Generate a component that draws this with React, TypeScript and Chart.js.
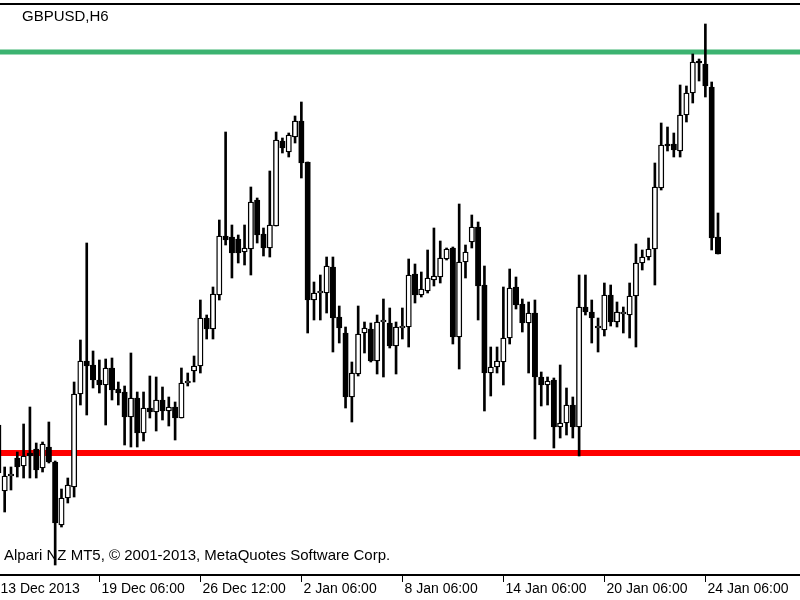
import React, { useEffect, useRef } from "react";
import { Chart, registerables } from "chart.js";

Chart.register(...registerables);

// GBPUSD H6 bars, first bar index = -1 (bar index 0 = first fully visible bar)
const FIRST_BAR = -1;

const OPEN = [
  1.6305,
  1.6239, 1.6254, 1.6272, 1.6264, 1.6277, 1.6281, 1.6262, 1.6283, 1.6268, 1.6205,
  1.6232, 1.6243, 1.6336, 1.6369, 1.6365, 1.6350, 1.6345, 1.6362, 1.6341, 1.6338,
  1.6313, 1.6332, 1.6297, 1.6322, 1.6318, 1.6330, 1.6319, 1.6323, 1.6312, 1.6347,
  1.6359, 1.6364, 1.6412, 1.6401, 1.6435, 1.6494, 1.6493, 1.6491, 1.6478, 1.6481,
  1.6530, 1.6496, 1.6482, 1.6504, 1.6589, 1.6578, 1.6593, 1.6609, 1.6568, 1.6430,
  1.6437, 1.6437, 1.6463, 1.6413, 1.6397, 1.6333, 1.6356, 1.6397, 1.6401, 1.6369,
  1.6408, 1.6407, 1.6384, 1.6402, 1.6403, 1.6456, 1.6435, 1.6439, 1.6450, 1.6453,
  1.6471, 1.6482, 1.6393, 1.6468, 1.6488, 1.6503, 1.6445, 1.6357, 1.6363, 1.6368,
  1.6392, 1.6443, 1.6426, 1.6407, 1.6417, 1.6353, 1.6345, 1.6350, 1.6303, 1.6307,
  1.6325, 1.6303, 1.6423, 1.6418, 1.6402, 1.6400, 1.6435, 1.6408, 1.6416, 1.6415,
  1.6434, 1.6467, 1.6473, 1.6481, 1.6542, 1.6586, 1.6586, 1.6579, 1.6615, 1.6637,
  1.6669, 1.6666, 1.6643, 1.6493,
];

const HIGH = [
  1.6310,
  1.6263, 1.6263, 1.6278, 1.6306, 1.6323, 1.6287, 1.6288, 1.6308, 1.6269, 1.6241,
  1.6252, 1.6348, 1.6390, 1.6487, 1.6379, 1.6370, 1.6371, 1.6372, 1.6348, 1.6344,
  1.6377, 1.6338, 1.6338, 1.6354, 1.6353, 1.6343, 1.6333, 1.6328, 1.6362, 1.6357,
  1.6374, 1.6430, 1.6415, 1.6443, 1.6510, 1.6598, 1.6505, 1.6495, 1.6505, 1.6543,
  1.6532, 1.6502, 1.6559, 1.6598, 1.6592, 1.6597, 1.6614, 1.6628, 1.6568, 1.6448,
  1.6455, 1.6473, 1.6473, 1.6424, 1.6403, 1.6368, 1.6424, 1.6408, 1.6407, 1.6415,
  1.6431, 1.6422, 1.6408, 1.6422, 1.6471, 1.6466, 1.6458, 1.6480, 1.6502, 1.6489,
  1.6482, 1.6483, 1.6526, 1.6485, 1.6515, 1.6508, 1.6464, 1.6383, 1.6383, 1.6443,
  1.6461, 1.6453, 1.6431, 1.6428, 1.6430, 1.6358, 1.6353, 1.6352, 1.6365, 1.6342,
  1.6333, 1.6455, 1.6455, 1.6430, 1.6412, 1.6447, 1.6445, 1.6428, 1.6423, 1.6447,
  1.6486, 1.6480, 1.6492, 1.6567, 1.6607, 1.6603, 1.6597, 1.6645, 1.6644, 1.6676,
  1.6671, 1.6706, 1.6648, 1.6517,
];

const LOW = [
  1.6253,
  1.6218, 1.6240, 1.6253, 1.6252, 1.6252, 1.6252, 1.6258, 1.6267, 1.6165, 1.6203,
  1.6227, 1.6233, 1.6325, 1.6315, 1.6342, 1.6337, 1.6305, 1.6330, 1.6325, 1.6285,
  1.6283, 1.6283, 1.6289, 1.6312, 1.6299, 1.6310, 1.6304, 1.6290, 1.6312, 1.6344,
  1.6348, 1.6357, 1.6391, 1.6391, 1.6430, 1.6485, 1.6452, 1.6467, 1.6465, 1.6455,
  1.6487, 1.6474, 1.6473, 1.6504, 1.6577, 1.6573, 1.6587, 1.6552, 1.6397, 1.6410,
  1.6410, 1.6417, 1.6378, 1.6387, 1.6322, 1.6308, 1.6354, 1.6377, 1.6368, 1.6356,
  1.6353, 1.6382, 1.6356, 1.6391, 1.6383, 1.6427, 1.6433, 1.6437, 1.6444, 1.6447,
  1.6470, 1.6386, 1.6361, 1.6452, 1.6482, 1.6410, 1.6319, 1.6334, 1.6357, 1.6345,
  1.6386, 1.6421, 1.6398, 1.6357, 1.6291, 1.6324, 1.6325, 1.6282, 1.6292, 1.6295,
  1.6292, 1.6274, 1.6415, 1.6387, 1.6378, 1.6394, 1.6404, 1.6403, 1.6397, 1.6392,
  1.6383, 1.6460, 1.6470, 1.6445, 1.6540, 1.6579, 1.6573, 1.6573, 1.6608, 1.6627,
  1.6649, 1.6633, 1.6480, 1.6476,
];

const CLOSE = [
  1.6257,
  1.6254, 1.6254, 1.6263, 1.6274, 1.6274, 1.6260, 1.6286, 1.6268, 1.6207, 1.6232,
  1.6245, 1.6336, 1.6369, 1.6364, 1.6350, 1.6345, 1.6362, 1.6340, 1.6337, 1.6313,
  1.6332, 1.6297, 1.6322, 1.6318, 1.6330, 1.6319, 1.6323, 1.6312, 1.6347, 1.6347,
  1.6364, 1.6412, 1.6401, 1.6436, 1.6494, 1.6490, 1.6477, 1.6477, 1.6482, 1.6528,
  1.6495, 1.6482, 1.6505, 1.6590, 1.6582, 1.6595, 1.6609, 1.6567, 1.6430, 1.6437,
  1.6437, 1.6464, 1.6412, 1.6402, 1.6333, 1.6357, 1.6396, 1.6402, 1.6369, 1.6408,
  1.6408, 1.6384, 1.6403, 1.6402, 1.6455, 1.6435, 1.6441, 1.6452, 1.6454, 1.6472,
  1.6481, 1.6393, 1.6468, 1.6478, 1.6503, 1.6444, 1.6357, 1.6363, 1.6369, 1.6392,
  1.6442, 1.6425, 1.6407, 1.6417, 1.6353, 1.6345, 1.6349, 1.6303, 1.6307, 1.6325,
  1.6303, 1.6423, 1.6418, 1.6412, 1.6402, 1.6435, 1.6408, 1.6418, 1.6416, 1.6434,
  1.6467, 1.6473, 1.6481, 1.6543, 1.6585, 1.6584, 1.6580, 1.6615, 1.6637, 1.6668,
  1.6667, 1.6644, 1.6492, 1.6476,
];

const RESISTANCE = 1.6678;
const SUPPORT = 1.6277;

const TICK_BARS = [-1, 15, 31, 47, 63, 79, 95, 111];
const TICK_LABELS = [
  "13 Dec 2013",
  "19 Dec 06:00",
  "26 Dec 12:00",
  "2 Jan 06:00",
  "8 Jan 06:00",
  "14 Jan 06:00",
  "20 Jan 06:00",
  "24 Jan 06:00",
];

const SYMBOL_TITLE = "GBPUSD,H6";
const COPYRIGHT = "Alpari NZ MT5, \u00A9 2001-2013, MetaQuotes Software Corp.";

const X_MIN = -0.74;
const X_MAX = 125.99;
const Y_MIN = 1.6156;
const Y_MAX = 1.6725;

const FONT = '"Liberation Sans", Arial, sans-serif';

const mtDecor = {
  id: "mtDecor",
  beforeDatasetsDraw(chart: any) {
    const { ctx, chartArea } = chart;
    ctx.save();
    ctx.fillStyle = "#000";
    ctx.textBaseline = "alphabetic";
    ctx.textAlign = "left";
    ctx.font = `15px ${FONT}`;
    ctx.fillText(SYMBOL_TITLE, 22, chartArea.top + 16);
    ctx.fillText(COPYRIGHT, 4, chartArea.bottom - 14);
    ctx.restore();
  },
  afterDraw(chart: any) {
    const { ctx, chartArea, scales } = chart;
    const x = scales.x;
    ctx.save();
    ctx.strokeStyle = "#000";
    ctx.lineWidth = 2;
    ctx.beginPath();
    ctx.moveTo(0, chartArea.top - 1);
    ctx.lineTo(chart.width, chartArea.top - 1);
    ctx.stroke();
    ctx.beginPath();
    ctx.moveTo(0, chartArea.bottom + 1);
    ctx.lineTo(chart.width, chartArea.bottom + 1);
    ctx.stroke();
    ctx.lineWidth = 1;
    ctx.font = `14px ${FONT}`;
    ctx.fillStyle = "#000";
    ctx.textAlign = "left";
    ctx.textBaseline = "alphabetic";
    TICK_BARS.forEach((b, k) => {
      const px = Math.round(x.getPixelForValue(b)) + 0.5;
      ctx.beginPath();
      ctx.moveTo(px, chartArea.bottom + 1);
      ctx.lineTo(px, chartArea.bottom + 8);
      ctx.stroke();
      ctx.fillText(TICK_LABELS[k], px + 2, chartArea.bottom + 19);
    });
    ctx.restore();
  },
};

export default function App() {
  const ref = useRef<HTMLCanvasElement | null>(null);

  useEffect(() => {
    if (!ref.current) return;
    const bodies = OPEN.map((o, i) => ({ x: i + FIRST_BAR, y: [o, CLOSE[i]] }));
    const wicks = OPEN.map((_, i) => ({ x: i + FIRST_BAR, y: [LOW[i], HIGH[i]] }));
    const bodyColors = OPEN.map((o, i) => (CLOSE[i] >= o ? "#ffffff" : "#000000"));

    const chart = new Chart(ref.current, {
      type: "bar",
      data: {
        datasets: [
          {
            type: "bar",
            label: "body",
            data: bodies as any,
            backgroundColor: bodyColors,
            borderColor: "#000000",
            borderWidth: 1.4,
            borderSkipped: false,
            grouped: false,
            barPercentage: 1,
            categoryPercentage: 1,
            maxBarThickness: 5.4,
            minBarLength: 2,
            order: 0,
          } as any,
          {
            type: "bar",
            label: "wick",
            data: wicks as any,
            backgroundColor: "#000000",
            borderWidth: 0,
            grouped: false,
            barPercentage: 1,
            categoryPercentage: 1,
            maxBarThickness: 2,
            order: 1,
          } as any,
          {
            type: "line",
            label: "resistance",
            data: [
              { x: X_MIN, y: RESISTANCE },
              { x: X_MAX, y: RESISTANCE },
            ],
            borderColor: "#3cb371",
            borderWidth: 5,
            pointRadius: 0,
            order: 2,
          } as any,
          {
            type: "line",
            label: "support",
            data: [
              { x: X_MIN, y: SUPPORT },
              { x: X_MAX, y: SUPPORT },
            ],
            borderColor: "#ff0000",
            borderWidth: 6,
            pointRadius: 0,
            order: 3,
          } as any,
        ],
      },
      options: {
        animation: false,
        responsive: false,
        maintainAspectRatio: false,
        events: [],
        layout: { padding: { top: 5, bottom: 26, left: 0, right: 0 } },
        plugins: { legend: { display: false }, tooltip: { enabled: false } },
        scales: {
          x: { type: "linear", min: X_MIN, max: X_MAX, display: false, offset: false },
          y: { type: "linear", min: Y_MIN, max: Y_MAX, display: false },
        },
      } as any,
      plugins: [mtDecor],
    });
    return () => chart.destroy();
  }, []);

  return (
    <div style={{ position: "absolute", left: 0, top: 0, width: 800, height: 600, background: "#ffffff" }}>
      <canvas ref={ref} width={800} height={600} style={{ display: "block" }} />
    </div>
  );
}
